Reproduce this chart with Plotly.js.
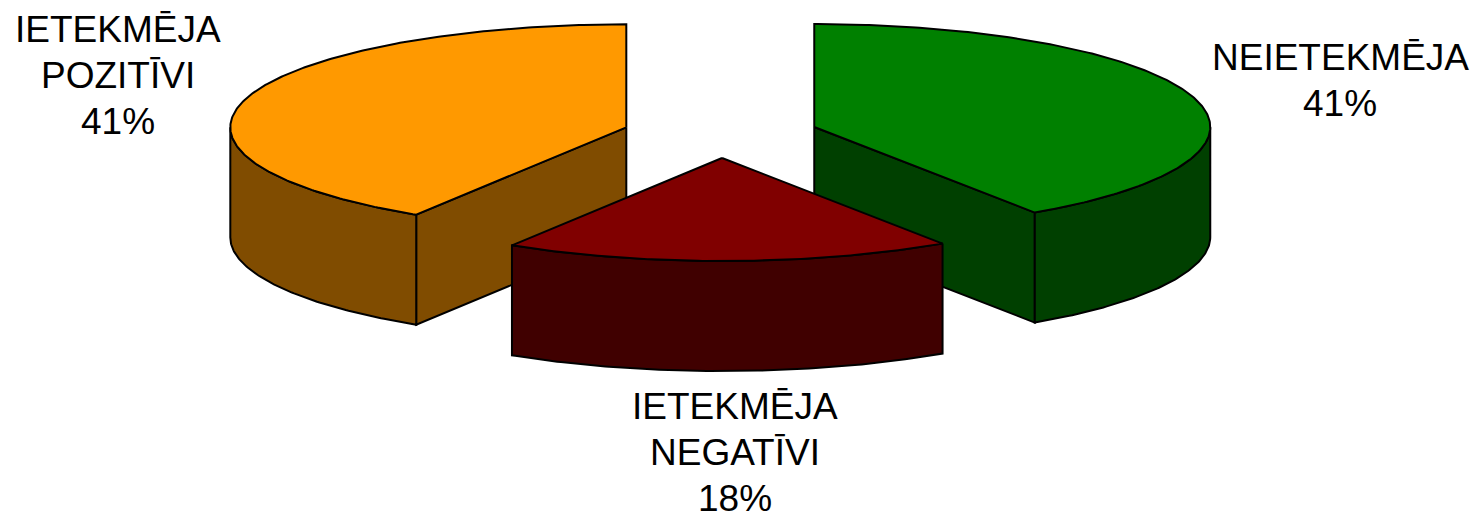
<!DOCTYPE html>
<html><head><meta charset="utf-8">
<script src="https://cdn.plot.ly/plotly-3.0.0.min.js"></script>
<style>html,body{margin:0;padding:0;background:#fff}</style></head>
<body><div id="chart" style="width:1480px;height:515px"></div>
<script>
const categories = ["NEIETEKMĒJA", "IETEKMĒJA|NEGATĪVI", "IETEKMĒJA|POZITĪVI"];
const values = [40.6, 18.3, 41.1];
const topColors = ["#008000", "#800000", "#FF9900"];
const wallColors = ["#004000", "#400000", "#804C00"];
const labelX = [1340, 735, 118];
const labelFirstY = [57, 406, 29];

// pie projection geometry
const cx = 720.5, cy = 134, rx = 396, ry = 103, depth = 110, explode = 98, explodeTilt = 0.245;
const lineGap = 46;
const total = values.reduce((a, b) => a + b, 0);
const pt = (c, a, dz) => [c[0] + rx * Math.sin(a), c[1] - ry * Math.cos(a) + (dz || 0)];
function arc(c, a0, a1, dz) {
  const n = Math.max(2, Math.ceil(Math.abs(a1 - a0) / 0.01)), out = [];
  for (let i = 0; i <= n; i++) out.push(pt(c, a0 + (a1 - a0) * i / n, dz));
  return out;
}
const traces = [];
function poly(points, fill) {
  const p = points.concat([points[0]]);
  traces.push({type: "scatter", mode: "lines", x: p.map(q => q[0]), y: p.map(q => q[1]),
    fill: "toself", fillcolor: fill, line: {color: "#000", width: 2}, hoverinfo: "skip", showlegend: false});
}
let start = 0;
const slices = values.map((v, i) => {
  const a0 = start, a1 = start + v / total * 2 * Math.PI; start = a1;
  const m = (a0 + a1) / 2;
  return {i, a0, a1, c: [cx + explode * Math.sin(m), cy - explode * explodeTilt * Math.cos(m)]};
});
// back-to-front: the two large slices first, then the front one
[0, 2, 1].forEach(k => {
  const s = slices[k], c = s.c, wall = wallColors[s.i];
  // cut faces that point to the viewer
  [s.a0, s.a1].forEach(a => {
    const e = pt(c, a);
    const facing = (s.a1 - s.a0 > 2) && (Math.abs(a - Math.PI) < 1.0);
    if (facing) poly([[c[0], c[1]], e, [e[0], e[1] + depth], [c[0], c[1] + depth]], wall);
  });
  // outer rim, visible for the lower half of the ellipse
  const lo = Math.max(s.a0, Math.PI / 2), hi = Math.min(s.a1, 3 * Math.PI / 2);
  if (hi > lo) poly(arc(c, lo, hi).concat(arc(c, hi, lo, depth)), wall);
  // top surface
  poly([[c[0], c[1]]].concat(arc(c, s.a0, s.a1)), topColors[s.i]);
});

const annotations = [];
categories.forEach((t, i) => {
  t.split("|").concat([Math.round(values[i]) + "%"]).forEach((line, j) => {
    annotations.push({
      x: labelX[i], y: labelFirstY[i] + j * lineGap, xref: "x", yref: "y", text: line,
      showarrow: false, xanchor: "center", yanchor: "middle",
      font: {family: "Liberation Sans, Arial, sans-serif", size: 37, color: "#000"}
    });
  });
});
Plotly.newPlot("chart", traces, {
  width: 1480, height: 515, margin: {l: 0, r: 0, t: 0, b: 0},
  paper_bgcolor: "#fff", plot_bgcolor: "#fff", showlegend: false,
  xaxis: {range: [0, 1480], visible: false, fixedrange: true},
  yaxis: {range: [515, 0], visible: false, fixedrange: true},
  annotations
}, {displayModeBar: false, staticPlot: true});
</script></body></html>
